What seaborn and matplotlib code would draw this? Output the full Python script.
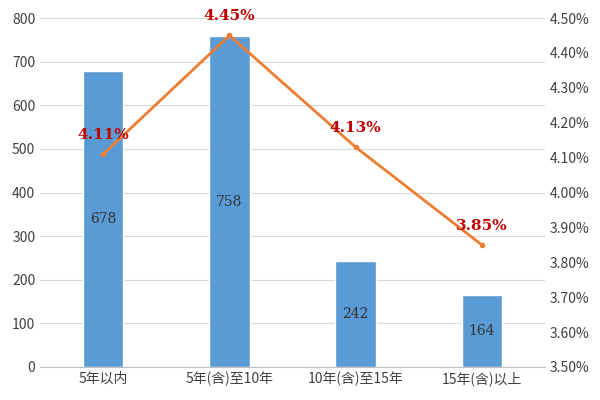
import matplotlib
matplotlib.use("Agg")
import matplotlib.pyplot as plt
import seaborn as sns
import pandas as pd
from matplotlib.ticker import FuncFormatter

categories = ["5年以内", "5年(含)至10年", "10年(含)至15年", "15年(含)以上"]
counts = [678, 758, 242, 164]
rates = [4.11, 4.45, 4.13, 3.85]

sns.set_style("white")
plt.rcParams['font.family'] = ['Noto Sans CJK SC', 'DejaVu Sans']

df = pd.DataFrame({"cat": categories, "count": counts, "rate": rates})
fig = plt.figure(figsize=(6, 4), dpi=100)
ax = fig.add_axes([0.067, 0.0825, 0.841, 0.8725])
sns.barplot(data=df, x="cat", y="count", color="#5B9BD5", width=0.32, ax=ax, saturation=1)
ax.set_ylim(0, 800)
ax.set_yticks(range(0, 801, 100))
ax.yaxis.grid(True, color="#D9D9D9", lw=0.8)
ax.set_axisbelow(True)
for s in ["top", "right", "left"]:
    ax.spines[s].set_visible(False)
ax.spines["bottom"].set_color("#BFBFBF")
ax.set_xlabel(""); ax.set_ylabel("")
ax.tick_params(axis="both", length=0, labelsize=10, colors="#404040")
for i, v in enumerate(counts):
    ax.text(i, v / 2, str(v), ha="center", va="center", fontsize=10, color="#333333", family="DejaVu Serif")

ax2 = ax.twinx()
sns.lineplot(x=list(range(len(categories))), y=rates, ax=ax2, color="#ED7D31", lw=2,
             marker="o", markersize=4, markeredgewidth=0)
ax2.set_ylim(3.5, 4.5)
ax2.set_yticks([3.5 + 0.1 * i for i in range(11)])
ax2.yaxis.set_major_formatter(FuncFormatter(lambda v, p: f"{v:.2f}%"))
for s in ["top", "right", "left", "bottom"]:
    ax2.spines[s].set_visible(False)
ax2.tick_params(axis="y", length=0, labelsize=10, colors="#404040")
ax2.set_ylabel("")
for i, r in enumerate(rates):
    ax2.text(i, r + 0.035, f"{r:.2f}%", ha="center", va="bottom", fontsize=11,
             color="#C00000", fontweight="bold", family="DejaVu Serif")
ax.set_xlim(-0.5, 3.5)
fig.savefig("out.png", dpi=100)
